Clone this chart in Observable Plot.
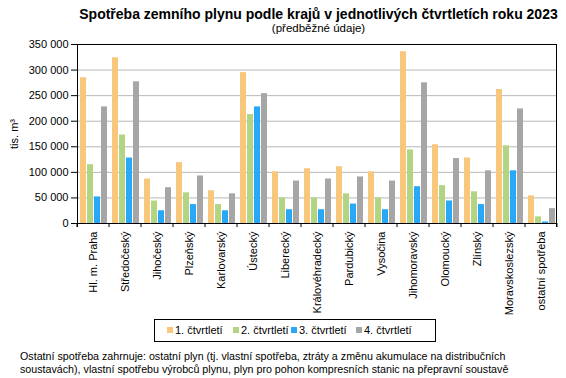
<!DOCTYPE html>
<html><head><meta charset="utf-8">
<script src="https://cdn.jsdelivr.net/npm/d3@7"></script>
<script src="https://cdn.jsdelivr.net/npm/@observablehq/plot@0.6"></script>
<style>
html,body{margin:0;padding:0;background:#fff;}
body{width:566px;height:378px;overflow:hidden;font-family:"Liberation Sans",Arial,sans-serif;color:#000;}
#wrap{position:relative;width:566px;height:378px;}
#title{position:absolute;left:74px;width:489px;top:6px;text-align:center;font-weight:bold;font-size:14px;line-height:16px;white-space:nowrap;}
#subtitle{position:absolute;left:74px;width:489px;top:22px;text-align:center;font-size:11.5px;line-height:13px;}
#chart{position:absolute;left:0;top:0;}
#legend{position:absolute;left:154px;top:319px;width:280px;height:21px;border:1px solid #000;background:#fff;box-sizing:content-box;font-size:11px;}
.item{position:absolute;top:4px;line-height:13px;white-space:nowrap;}
.sw{display:inline-block;width:6px;height:6px;margin-right:2px;vertical-align:1px;}
#caption{position:absolute;left:20px;top:350px;font-size:10.7px;line-height:13px;white-space:nowrap;}
</style></head>
<body><div id="wrap">
<div id="chart"></div>
<div id="title">Spotřeba zemního plynu podle krajů v jednotlivých čtvrtletích roku 2023</div>
<div id="subtitle">(předběžné údaje)</div>
<div id="legend"></div>
<div id="caption">Ostatní spotřeba zahrnuje: ostatní plyn (tj. vlastní spotřeba, ztráty a změnu akumulace na distribučních<br>soustavách), vlastní spotřebu výrobců plynu, plyn pro pohon kompresních stanic na přepravní soustavě</div>
</div>
<script>
const regions = ["Hl. m. Praha","Středočeský","Jihočeský","Plzeňský","Karlovarský","Ústecký","Liberecký","Královéhradecký","Pardubický","Vysočina","Jihomoravský","Olomoucký","Zlínský","Moravskoslezský","ostatní spotřeba"];
const quarters = ["1. čtvrtletí","2. čtvrtletí","3. čtvrtletí","4. čtvrtletí"];
const q1 = [285000,324000,87000,119000,64000,295000,101000,107000,111000,101000,336000,154000,128000,262000,54000];
const q2 = [115000,173000,44000,60000,37000,213000,50000,50000,58000,50000,144000,74000,62000,152000,13000];
const q3 = [52000,128000,25000,37000,25000,228000,27000,27000,38000,27000,72000,44000,37000,103000,3000];
const q4 = [228000,277000,70000,93000,58000,254000,83000,87000,91000,83000,275000,127000,103000,224000,29000];
const yTicks = [0,50000,100000,150000,200000,250000,300000,350000];
const gridTicks = [50000,100000,150000,200000,250000,300000];
const colors = ["#f9c77b","#b2d583","#2aa8f8","#a6a6a6"];
const yLabel = "tis. m³";

const series = [q1,q2,q3,q4];
const data = [];
regions.forEach((r,i)=>quarters.forEach((q,j)=>data.push({region:r,quarter:q,value:series[j][i]})));

const fmt = d => d3.format(",")(d).replace(/,/g," ");

const plot = Plot.plot({
  width:566, height:318,
  marginLeft:72, marginRight:5, marginTop:44, marginBottom:95,
  style:{fontFamily:"Liberation Sans, Arial, sans-serif", fontSize:"11px", background:"#fff", color:"#000", overflow:"visible"},
  fx:{domain:regions, padding:0, axis:null},
  x:{domain:quarters, paddingInner:0.2, paddingOuter:0.23, axis:null},
  y:{domain:[0,350000], axis:null},
  color:{domain:quarters, range:colors},
  marks:[
    Plot.gridY(gridTicks,{stroke:"#b8b8b8", strokeOpacity:1}),
    Plot.barY(data,{fx:"region", x:"quarter", y:"value", fill:"quarter"}),
    Plot.ruleY([0,350000],{stroke:"#000"}),
    Plot.axisY({ticks:yTicks, tickFormat:fmt, tickSize:6, tickPadding:3, fontSize:11, label:yLabel, labelAnchor:"center", labelOffset:67, labelArrow:"none"}),
    Plot.axisFx({anchor:"bottom", tickSize:0, tickPadding:8, tickRotate:-90, textAnchor:"end", lineAnchor:"middle", fontSize:11, label:null})
  ]
});
document.getElementById("chart").appendChild(plot);

// frame lines and category separator ticks from the library's scales
const fx = plot.scale("fx"), y = plot.scale("y");
const y0 = y.apply(0), yTop = y.apply(350000);
const svg = d3.select(plot);
const g = svg.append("g").attr("stroke","#000").attr("stroke-width",1);
const bounds = regions.map(r=>fx.apply(r));
bounds.push(bounds[bounds.length-1]+fx.step);
g.append("line").attr("x1",bounds[0]+0.5).attr("x2",bounds[0]+0.5).attr("y1",yTop).attr("y2",y0+4);
g.append("line").attr("x1",bounds[bounds.length-1]-0.5).attr("x2",bounds[bounds.length-1]-0.5).attr("y1",yTop).attr("y2",y0+4);
bounds.forEach(b=>g.append("line").attr("x1",b).attr("x2",b).attr("y1",y0).attr("y2",y0+4));

// legend
const leg = document.getElementById("legend");
const lx = [12,78,136,201];
quarters.forEach((q,i)=>{
  const d = document.createElement("div");
  d.className="item"; d.style.left=lx[i]+"px";
  d.innerHTML = `<span class="sw" style="background:${colors[i]}"></span>${q}`;
  leg.appendChild(d);
});
</script>
</body></html>
